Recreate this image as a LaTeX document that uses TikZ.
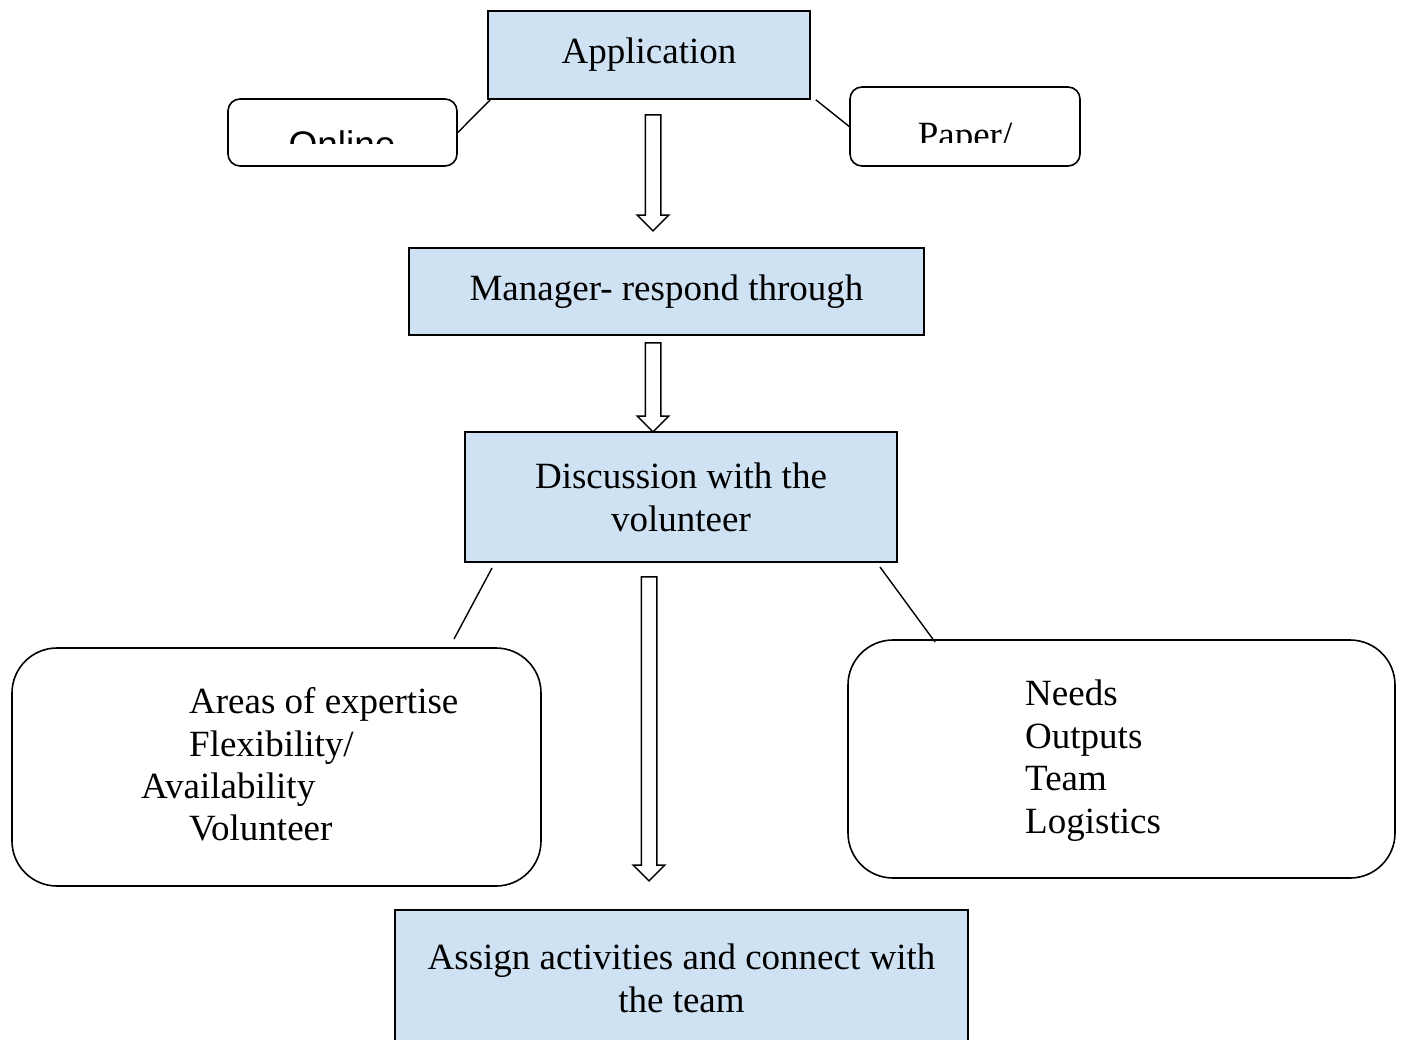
\documentclass[tikz,border=0pt]{standalone}
\usepackage{fontspec}
\setmainfont{Liberation Serif}
\newfontfamily\onlinefont{Liberation Sans}
\usetikzlibrary{shapes.arrows}
\definecolor{stageblue}{RGB}{207,226,243}

\begin{document}
\begin{tikzpicture}[x=1pt,y=-1pt,
	every node/.style={font=\fontsize{37}{43}\selectfont},
	stage/.style={draw=black,line width=1.6pt,fill=stageblue,align=center,inner sep=0pt},
	option/.style={draw=black,line width=1.6pt,rounded corners=12pt,inner sep=0pt},
	detail/.style={draw=black,line width=1.6pt,rounded corners=45pt,inner sep=0pt},
	flow/.style={single arrow,draw=black,fill=white,line width=1.5pt,inner sep=7pt,
		minimum width=0pt,single arrow head extend=8pt,single arrow tip angle=90,rotate=-90},
	link/.style={line width=1.4pt}]
	\useasboundingbox (0,0) rectangle (1404,1039);

	% main stages
	\node[stage,minimum width=322pt,minimum height=88pt] (app) at (649,55) {Application};
	\node[stage,minimum width=515pt,minimum height=87pt] (manager) at (666.5,291.5) {Manager- respond through};
	\node[stage,minimum width=432pt,minimum height=130pt] (discuss) at (681,497) {Discussion with the\\volunteer};
	\node[stage,minimum width=573pt,minimum height=136pt] (assign) at (681.5,978) {Assign activities and connect with\\the team};

	% application options
	\node[option,minimum width=229pt,minimum height=67pt] (online) at (342.5,132.5) {};
	\node[option,minimum width=230pt,minimum height=79pt] (paper) at (965,126.5) {};
	\begin{scope}
		\clip (230,101) rectangle (455,143);
		\node[anchor=base,font=\onlinefont\fontsize{37}{43}\selectfont] (onlinetext) at (342,157) {Online};
	\end{scope}
	\begin{scope}
		\clip (852,89) rectangle (1078,142);
		\node[anchor=base] (papertext) at (965,147) {Paper/};
	\end{scope}
	\draw[link] ([xshift=3pt]app.south west) -- (online.east);
	\draw[link] ([xshift=5pt]app.south east) -- (paper.west);

	% flow arrows
	\node[flow,minimum height=116pt] (flowa) at (653,169) {};
	\node[flow,minimum height=89pt] (flowb) at (653,383.5) {};
	\node[flow,minimum height=304pt] (flowc) at (649,725) {};

	% discussion details
	\node[detail,minimum width=529pt,minimum height=238pt] (skills) at (276.5,767) {};
	\node[detail,minimum width=547pt,minimum height=238pt] (needs) at (1121.5,759) {};
	\foreach \txt/\xx/\yy [count=\i] in {Areas of expertise/189/713,{Flexibility/}/189/756,Availability/141/798,Volunteer/189/840}
		\node[anchor=base west,inner sep=0pt] (skill\i) at (\xx,\yy) {\txt};
	\foreach \txt/\yy [count=\i] in {Needs/705,Outputs/748,Team/790,Logistics/833}
		\node[anchor=base west,inner sep=0pt] (need\i) at (1025,\yy) {\txt};
	\coordinate (skillsa) at (492,568);
	\coordinate (skillsb) at (454,639);
	\coordinate (needsa) at (880,567);
	\coordinate (needsb) at (935,642);
	\draw[link] (skillsa) -- (skillsb);
	\draw[link] (needsa) -- (needsb);
\end{tikzpicture}
\end{document}
